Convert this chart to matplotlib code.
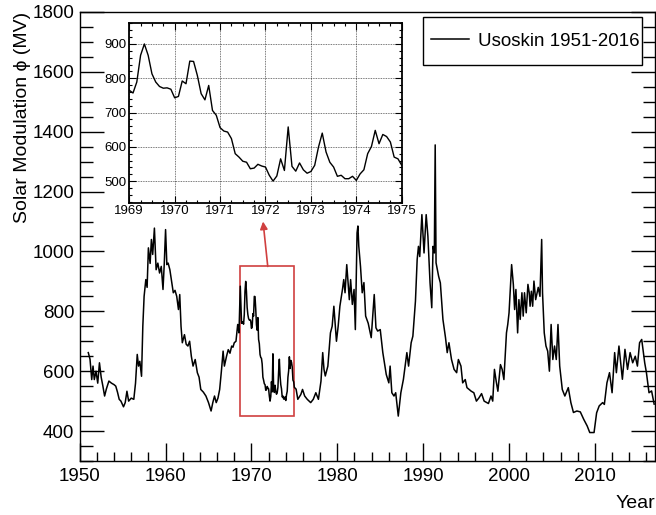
import numpy as np
import matplotlib
matplotlib.use('Agg')
import matplotlib.pyplot as plt
from matplotlib.patches import Rectangle
from matplotlib.ticker import MultipleLocator

plt.rcParams['font.family'] = ['Liberation Sans', 'DejaVu Sans']

# modulation potential, outside the zoomed window
early_years = [1951.0, 1951.2, 1951.4, 1951.55, 1951.7, 1951.9, 1952.1, 1952.3, 1952.5, 1952.7,
               1952.9, 1953.1, 1953.4, 1953.7, 1954.0, 1954.2, 1954.4, 1954.6, 1954.8, 1955.1,
               1955.3, 1955.5, 1955.7, 1956.0, 1956.3, 1956.5, 1956.7, 1956.85, 1957.0, 1957.2,
               1957.35, 1957.5, 1957.7, 1957.85, 1958.0, 1958.2, 1958.35, 1958.5, 1958.7, 1958.9,
               1959.1, 1959.3, 1959.5, 1959.7, 1959.85, 1960.0, 1960.15, 1960.3, 1960.5, 1960.7,
               1960.9, 1961.1, 1961.3, 1961.5, 1961.65, 1961.8, 1961.95, 1962.2, 1962.4, 1962.6,
               1962.8, 1963.0, 1963.2, 1963.45, 1963.7, 1963.9, 1964.1, 1964.4, 1964.7, 1965.0,
               1965.3, 1965.5, 1965.7, 1965.9, 1966.1, 1966.3, 1966.5, 1966.7, 1966.85, 1967.1,
               1967.3, 1967.5, 1967.7, 1967.85, 1968.0, 1968.2, 1968.4, 1968.55, 1968.7, 1968.85]
early_phi = [662, 640, 572, 617, 572, 600, 560, 628, 580, 550,
             517, 540, 567, 560, 555, 550, 530, 506, 500, 481,
             495, 533, 500, 510, 506, 560, 656, 617, 633, 583,
             750, 850, 906, 880, 1012, 960, 1040, 990, 1078, 939,
             961, 928, 950, 873, 960, 1073, 956, 961, 939, 900,
             862, 870, 850, 806, 856, 750, 695, 722, 690, 684,
             700, 650, 617, 639, 595, 580, 539, 530, 517, 495,
             467, 495, 517, 495, 510, 539, 600, 667, 617, 650,
             672, 660, 684, 680, 695, 700, 756, 728, 884, 760]

late_years = [1975.2, 1975.4, 1975.75, 1975.95, 1976.2, 1976.5, 1976.9, 1977.2, 1977.5, 1977.8,
              1978.1, 1978.3, 1978.45, 1978.6, 1978.9, 1979.2, 1979.4, 1979.6, 1979.75, 1979.9,
              1980.1, 1980.3, 1980.6, 1980.75, 1980.9, 1981.1, 1981.4, 1981.55, 1981.75, 1981.95,
              1982.1, 1982.3, 1982.4, 1982.5, 1982.7, 1982.9, 1983.1, 1983.3, 1983.6, 1983.95,
              1984.3, 1984.5, 1984.7, 1985.0, 1985.3, 1985.7, 1986.0, 1986.15, 1986.35, 1986.6,
              1986.8, 1987.1, 1987.4, 1987.7, 1988.1, 1988.3, 1988.6, 1988.8, 1989.1, 1989.3,
              1989.45, 1989.6, 1989.85, 1990.1, 1990.35, 1990.55, 1990.8, 1991.0, 1991.15, 1991.3,
              1991.4, 1991.5, 1991.65, 1991.8, 1992.0, 1992.3, 1992.6, 1992.8, 1993.0, 1993.3,
              1993.6, 1993.9, 1994.1, 1994.4, 1994.6, 1994.9, 1995.1, 1995.6, 1995.9, 1996.2,
              1996.5, 1996.8, 1997.1, 1997.6, 1997.9, 1998.1, 1998.3, 1998.5, 1998.7, 1999.0,
              1999.2, 1999.4, 1999.7, 1999.85, 2000.0, 2000.3, 2000.5, 2000.65, 2000.8, 2001.0,
              2001.15, 2001.3, 2001.5, 2001.65, 2001.8, 2002.0, 2002.2, 2002.35, 2002.45, 2002.6,
              2002.75, 2002.9, 2003.1, 2003.4, 2003.6, 2003.8, 2003.9, 2004.1, 2004.3, 2004.5,
              2004.7, 2004.9, 2005.1, 2005.3, 2005.5, 2005.7, 2005.9, 2006.2, 2006.5, 2006.9,
              2007.2, 2007.5, 2007.9, 2008.3, 2008.7, 2009.1, 2009.4, 2009.9, 2010.2, 2010.5,
              2010.9, 2011.1, 2011.4, 2011.7, 2012.0, 2012.3, 2012.5, 2012.8, 2013.2, 2013.5,
              2013.8, 2014.1, 2014.4, 2014.7, 2014.95, 2015.2, 2015.45, 2015.8, 2016.0, 2016.3,
              2016.6, 2016.9]
late_phi = [540, 506, 522, 539, 517, 506, 495, 506, 528, 506,
            567, 662, 606, 584, 617, 728, 750, 817, 760, 700,
            750, 817, 873, 906, 862, 956, 839, 906, 823, 873,
            739, 1062, 1085, 1018, 950, 862, 896, 784, 760, 712,
            856, 745, 734, 739, 662, 589, 561, 617, 528, 517,
            528, 450, 528, 573, 662, 617, 695, 717, 834, 973,
            1017, 983, 1123, 995, 1123, 1051, 895, 812, 1017, 995,
            1356, 962, 940, 917, 895, 773, 712, 662, 695, 639,
            606, 595, 639, 617, 561, 572, 545, 533, 528, 500,
            511, 525, 500, 492, 517, 500, 606, 567, 533, 622,
            606, 572, 728, 756, 795, 956, 890, 806, 873, 728,
            839, 773, 862, 784, 862, 795, 890, 862, 817, 867,
            817, 901, 839, 880, 850, 1040, 862, 728, 684, 667,
            600, 756, 639, 684, 639, 756, 617, 539, 517, 545,
            495, 462, 467, 464, 439, 417, 395, 395, 461, 484,
            495, 489, 561, 595, 528, 662, 595, 684, 573, 673,
            606, 662, 628, 650, 617, 695, 706, 628, 595, 528,
            534, 490]

# monthly values Jan 1969 .. Jan 1975 (zoomed panel)
zoom_phi = [765, 757, 789, 867, 900, 867, 813, 789, 776, 771, 772, 768,
            743, 747, 792, 784, 850, 849, 808, 755, 737, 779, 706, 692,
            656, 646, 643, 624, 580, 570, 558, 555, 536, 538, 549, 544,
            541, 517, 500, 515, 565, 531, 658, 543, 529, 553, 533, 523,
            528, 546, 599, 640, 585, 555, 541, 514, 517, 507, 507, 514,
            502, 521, 533, 580, 601, 648, 609, 636, 630, 614, 570, 565,
            546]
zoom_years = 1969 + np.arange(len(zoom_phi)) / 12.0

years = np.concatenate([early_years, zoom_years, late_years])
phi = np.concatenate([early_phi, zoom_phi, late_phi])

fig = plt.figure(figsize=(6.56, 5.15), dpi=100)
ax = fig.add_axes([0.1215, 0.1049, 0.877, 0.8718])
ax.plot(years, phi, color='black', lw=1.1, label='Usoskin 1951-2016')
ax.set_xlim(1950, 2017)
ax.set_ylim(300, 1800)
ax.xaxis.set_major_locator(MultipleLocator(10))
ax.xaxis.set_minor_locator(MultipleLocator(2))
ax.yaxis.set_major_locator(MultipleLocator(200))
ax.yaxis.set_minor_locator(MultipleLocator(50))
ax.tick_params(axis='both', which='both', direction='in', labelsize=13.5, width=1.0)
ax.tick_params(axis='y', which='both', right=True)
ax.tick_params(axis='y', which='major', length=17, pad=4)
ax.tick_params(axis='y', which='minor', length=9)
ax.tick_params(axis='x', which='major', length=13, pad=5)
ax.tick_params(axis='x', which='minor', length=6.5)
for s in ax.spines.values():
    s.set_linewidth(1.0)
ax.set_ylabel('Solar Modulation ϕ (MV)', fontsize=14, loc='top', labelpad=1)
ax.set_xlabel('Year', fontsize=14, loc='right', labelpad=7)

# red box marking the zoomed window and arrow to inset
ax.add_patch(Rectangle((1968.65, 450), 1975 - 1968.65, 500, fill=False,
                       edgecolor='#d04040', lw=1.2))
ax.annotate('', xy=(1971.35, 1100), xytext=(1971.9, 950),
            arrowprops=dict(arrowstyle='-|>', color='#d04040', lw=1.2,
                            mutation_scale=11, shrinkA=0, shrinkB=0))

# legend: box drawn separately to get the ROOT-like padding
fig.patches.append(Rectangle((422.7 / 656, (515 - 65) / 515), 219.6 / 656, 48.3 / 515,
                             transform=fig.transFigure, fill=False,
                             edgecolor='black', lw=1.0, zorder=5))
ax.legend(loc='center left', bbox_to_anchor=(431 / 656, (515 - 41) / 515),
          bbox_transform=fig.transFigure, fontsize=13.5, frameon=False,
          handlelength=2.0, borderpad=0, borderaxespad=0, handletextpad=0.48)

# inset
ins = fig.add_axes([0.197, 0.6064, 0.4154, 0.3495])
ins.plot(zoom_years, zoom_phi, color='black', lw=1.0)
ins.set_xlim(1969, 1975)
ins.set_ylim(437, 962)
ins.xaxis.set_major_locator(MultipleLocator(1))
ins.xaxis.set_minor_locator(MultipleLocator(0.25))
ins.yaxis.set_major_locator(MultipleLocator(100))
ins.yaxis.set_minor_locator(MultipleLocator(20))
ins.grid(True, which='major', linestyle=(0, (1, 1)), color='black', lw=0.6, alpha=0.7)
ins.tick_params(axis='both', which='both', direction='in', labelsize=9.5,
                top=True, right=True, width=0.8)
ins.tick_params(axis='both', which='major', length=5, pad=2)
ins.tick_params(axis='both', which='minor', length=2.5)
for s in ins.spines.values():
    s.set_linewidth(1.3)

fig.savefig('out.png', dpi=100)
